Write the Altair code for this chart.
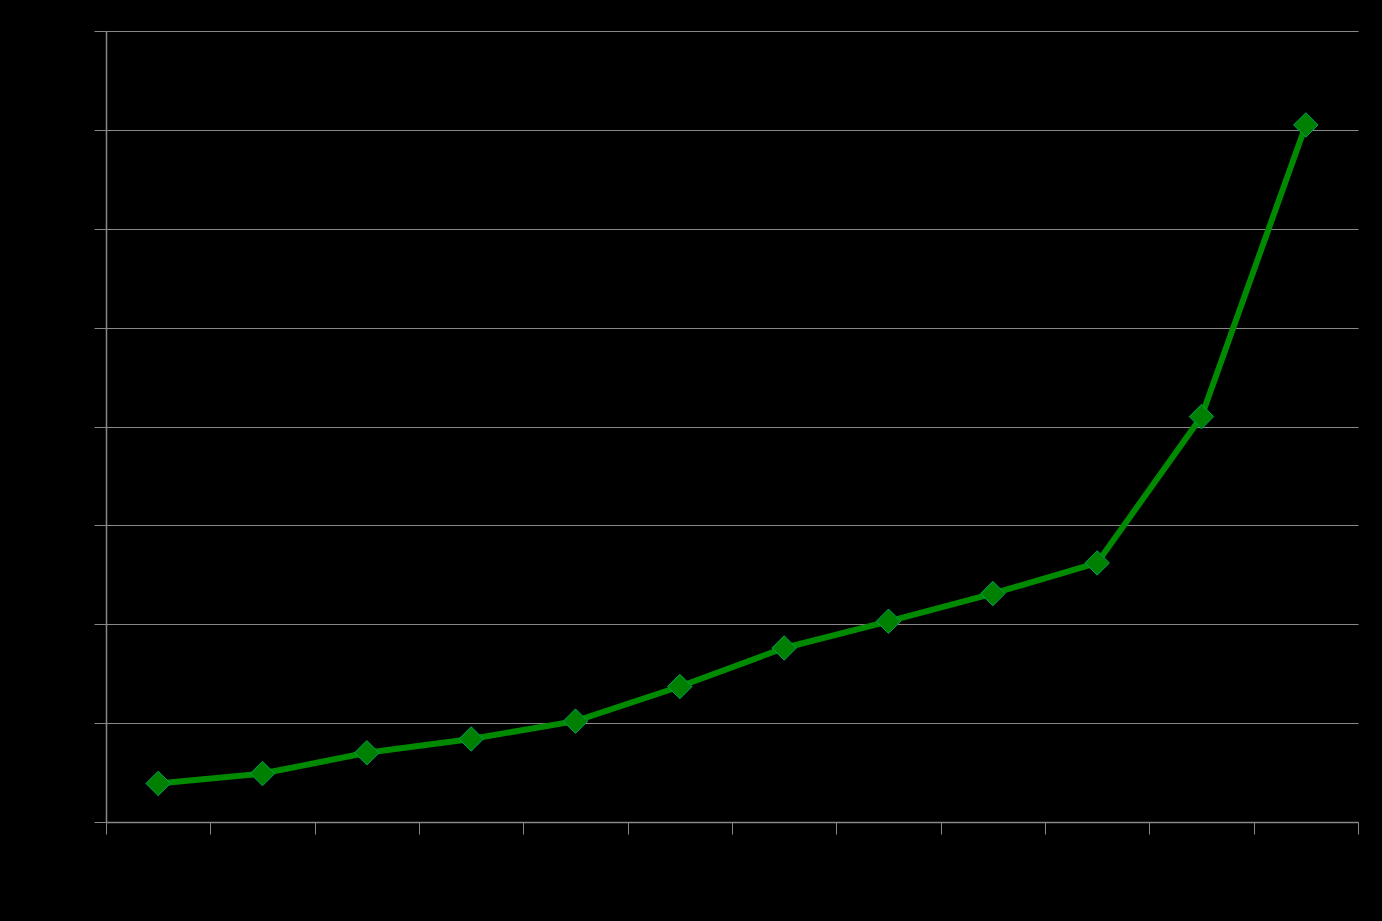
import altair as alt
import pandas as pd

categories = [str(i) for i in range(1, 13)]
values = [0.39, 0.49, 0.70, 0.84, 1.02, 1.37, 1.76, 2.03, 2.31, 2.62, 4.10, 7.05]

df = pd.DataFrame({"cat": categories, "val": values})

x = alt.X("cat:N", sort=categories, title=None,
          scale=alt.Scale(paddingInner=0, paddingOuter=0),
          axis=alt.Axis(labelColor="black", domainColor="#888888", tickColor="#888888",
                        tickSize=12, tickBand="extent", labelAngle=0, grid=False,
                        domainWidth=1.5, tickWidth=1))
y = alt.Y("val:Q", title=None,
          scale=alt.Scale(domain=[0, 8], nice=False),
          axis=alt.Axis(values=[0, 1, 2, 3, 4, 5, 6, 7, 8], labelColor="black",
                        domainColor="#888888", tickColor="#888888", tickSize=12,
                        gridColor="#888888", gridWidth=1, domainWidth=1.5))

line = alt.Chart(df).mark_line(color="#008a00", strokeWidth=6).encode(x=x, y=y)
pts = alt.Chart(df).mark_point(shape="diamond", filled=True, size=600, fill="#008000",
                               stroke="#00a060", strokeWidth=1, opacity=1).encode(x=x, y=y)

chart = (line + pts).properties(
    width=1252, height=791, background="black",
    autosize=alt.AutoSizeParams(type="none"),
    padding={"left": 106, "top": 31, "right": 24, "bottom": 99},
).configure_view(stroke=None)

chart.save("out.html", embed_options={"renderer": "svg", "actions": False})

with open("out.html", encoding="utf-8") as f:
    html = f.read()
html = html.replace("<head>", "<head><style>html,body{margin:0;padding:0;background:#000;overflow:hidden}</style>", 1)
with open("out.html", "w", encoding="utf-8") as f:
    f.write(html)
